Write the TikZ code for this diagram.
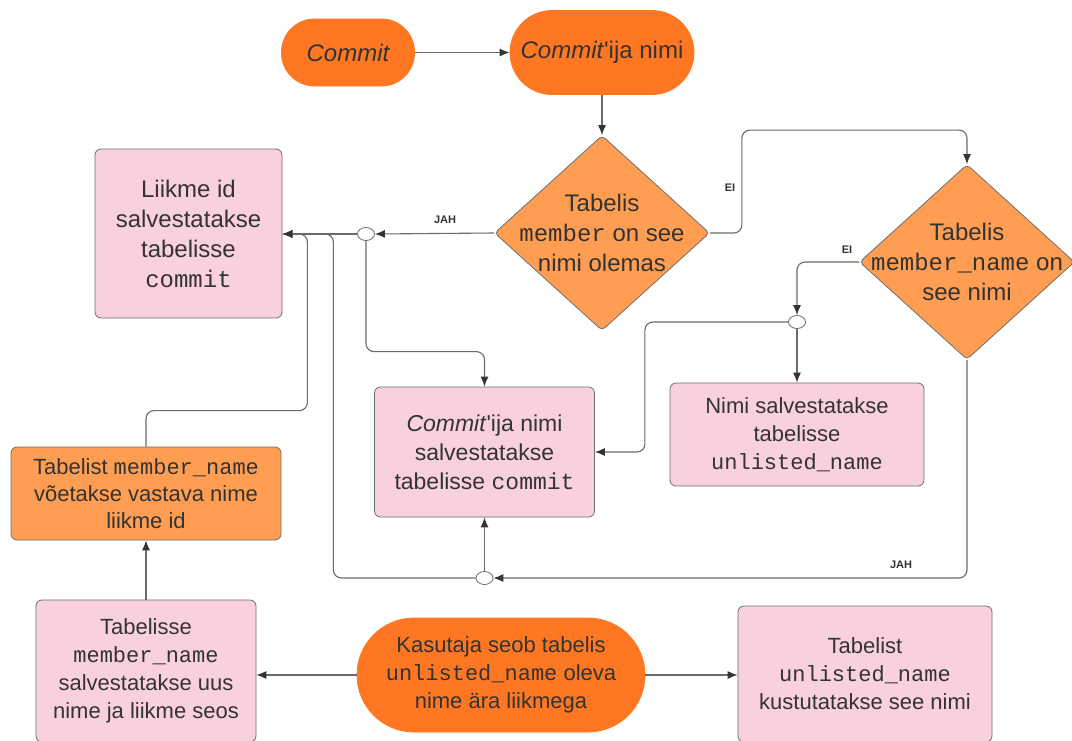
\documentclass[tikz,border=0pt]{standalone}
\usepackage{fontspec}
\setmainfont{Liberation Sans}
\setmonofont{Liberation Mono}
\usetikzlibrary{shapes.geometric, arrows.meta}
\definecolor{vivid}{HTML}{FF7722}
\definecolor{soft}{HTML}{FF9E52}
\definecolor{rosa}{HTML}{F9D1DC}
\definecolor{txt}{HTML}{333333}
\definecolor{edge}{HTML}{6E6E6E}
\definecolor{wire}{HTML}{6A6A6A}
\begin{document}
\begin{tikzpicture}[x=1pt, y=-1pt, >={Latex[length=10pt,width=8pt,color=txt]},
    box/.style={draw=edge, line width=0.8pt, text=txt, align=center, inner sep=0pt, rounded corners=6pt, font=\fontsize{22}{28}\selectfont},
    pinkbox/.style={box, fill=rosa},
    orangebox/.style={box, fill=soft},
    pill/.style={box, fill=vivid, draw=vivid},
    decision/.style={diamond, draw=edge, fill=soft, line width=0.8pt, inner sep=0pt, rounded corners=4pt, minimum width=215pt, minimum height=195pt},
    dtext/.style={text=txt, align=center, font=\fontsize{24}{30}\selectfont},
    junction/.style={ellipse, draw=wire, fill=white, line width=0.8pt, minimum width=17pt, minimum height=13pt, inner sep=0pt},
    link/.style={draw=wire, line width=1.1pt, rounded corners=8pt},
    tip/.style={text=txt, font=\bfseries\fontsize{11}{13}\selectfont}]
  \useasboundingbox[fill=white] (0,0) rectangle (1072,740);

  % --- algus ---
  \node[pill, minimum width=133pt, minimum height=67pt, rounded corners=33pt, font=\fontsize{24}{30}\selectfont\itshape] (commit) at (348,52.5) {Commit};
  \node[pill, minimum width=184pt, minimum height=84pt, rounded corners=42pt, font=\fontsize{24}{30}\selectfont] (nimi) at (602,52.5) {\textit{Commit}\textquotesingle ija nimi};

  % --- otsused ---
  \node[decision, label={[dtext]center:{Tabelis\\\texttt{member} on see\\nimi olemas}}] (d1) at (602,233) {};
  \node[decision, label={[dtext]center:{Tabelis\\\texttt{member\_name} on\\see nimi}}] (d2) at (967,262) {};

  % --- kastid ---
  \node[pinkbox, minimum width=187pt, minimum height=169pt, font=\fontsize{24}{30}\selectfont] (liige) at (188.5,233.5) {Liikme id\\salvestatakse\\tabelisse\\\texttt{commit}};
  \node[pinkbox, minimum width=220pt, minimum height=130pt, font=\fontsize{23}{29}\selectfont] (cn) at (484.5,452) {\textit{Commit}\textquotesingle ija nimi\\salvestatakse\\tabelisse \texttt{commit}};
  \node[pinkbox, minimum width=254pt, minimum height=103pt] (un) at (797,434.5) {Nimi salvestatakse\\tabelisse\\\texttt{unlisted\_name}};
  \node[orangebox, minimum width=270pt, minimum height=93pt, font=\fontsize{22}{27}\selectfont] (tm) at (146,493.5) {Tabelist \texttt{member\_name}\\võetakse vastava nime\\liikme id};
  \node[pinkbox, minimum width=220pt, minimum height=142pt] (bl) at (146,671) {Tabelisse\\\texttt{member\_name}\\salvestatakse uus\\nime ja liikme seos};
  \node[pill, minimum width=288pt, minimum height=114pt, rounded corners=57pt] (kas) at (501,675) {Kasutaja seob tabelis\\\texttt{unlisted\_name} oleva\\nime ära liikmega};
  \node[pinkbox, minimum width=254pt, minimum height=136pt] (br) at (865,674) {Tabelist\\\texttt{unlisted\_name}\\kustutatakse see nimi};

  % --- sõlmed ---
  \node[junction] (j1) at (366,234) {};
  \node[junction] (j2) at (797,322) {};
  \node[junction] (j3) at (484.5,578) {};

  % --- sildid ---
  \node[tip] (jah1) at (445,220) {JAH};
  \node[tip] (ei1) at (730,188) {EI};
  \node[tip] (ei2) at (847,250) {EI};
  \node[tip] (jah2) at (901,565) {JAH};

  % --- ühendused ---
  \draw[link,->] (commit) -- (nimi);
  \draw[link,->] (nimi) -- (d1.north);
  \draw[link,->] (d1.west) -- (j1.east);
  \draw[link,->] (j1.west) -- (j1.west -| liige.east);
  \draw[link,->] (j1.south) |- ([yshift=35pt]cn.north) -- (cn.north);
  \draw[link,->] (d1.east) -- ++(32,0) |- ([yshift=34pt]d2.north) -- (d2.north);
  \draw[link,->] (d2.west) -| (j2.north);
  \draw[link,->] (j2.south) -- (un.north);
  \draw[link,->] (j2.west) -| ([xshift=50pt]cn.east) -- (cn.east);
  \draw[link,->] (d2.south) |- (j3.east);
  \draw[link,->] (j3.north) -- (cn.south);
  \draw[link,->] (j3.west) -| ([xshift=51pt]j1.west -| liige.east) -- (j1.west -| liige.east);
  \draw[link,->] (tm.north) -- ++(0,-36) -| ([xshift=25pt]j1.west -| liige.east) -- (j1.west -| liige.east);
  \draw[link,->] (bl.north) -- (tm.south);
  \draw[link,->] (kas.west) -- (kas.west -| bl.east);
  \draw[link,->] (kas.east) -- (kas.east -| br.west);
\end{tikzpicture}
\end{document}
